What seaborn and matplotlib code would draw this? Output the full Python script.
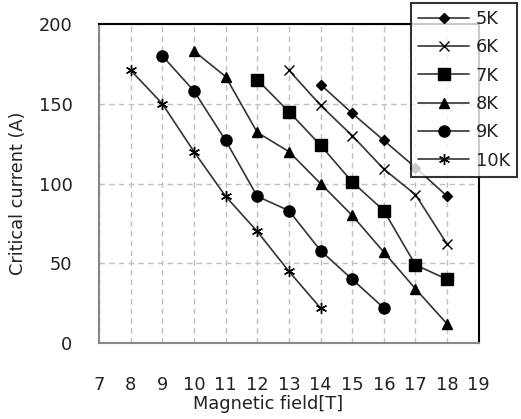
import matplotlib
matplotlib.use("Agg")
import matplotlib.pyplot as plt
import seaborn as sns
import pandas as pd

# ---- data ----
b_5k = [14, 15, 16, 17, 18]
i_5k = [162, 144, 127, 110, 92]
b_6k = [13, 14, 15, 16, 17, 18]
i_6k = [171, 149, 130, 109, 93, 62]
b_7k = [12, 13, 14, 15, 16, 17, 18]
i_7k = [165, 145, 124, 101, 83, 49, 40]
b_8k = [10, 11, 12, 13, 14, 15, 16, 17, 18]
i_8k = [183, 167, 132, 120, 100, 80, 57, 34, 12]
b_9k = [9, 10, 11, 12, 13, 14, 15, 16]
i_9k = [180, 158, 127, 92, 83, 58, 40, 22]
b_10k = [8, 9, 10, 11, 12, 13, 14]
i_10k = [171, 150, 120, 92, 70, 45, 22]
series_names = ["5K", "6K", "7K", "8K", "9K", "10K"]
x_ticks = list(range(7, 20))
y_ticks = [0, 50, 100, 150, 200]

rows = []
for name, bs, cs in zip(series_names,
                        [b_5k, b_6k, b_7k, b_8k, b_9k, b_10k],
                        [i_5k, i_6k, i_7k, i_8k, i_9k, i_10k]):
    for b, c in zip(bs, cs):
        rows.append({"B": b, "I": c, "T": name})
df = pd.DataFrame(rows)

sns.set_style("white")
plt.rcParams["font.family"] = ["DejaVu Sans"]

fig = plt.figure(figsize=(5.21, 4.19), dpi=100)
ax = fig.add_axes([0.19, 0.181, 0.729, 0.762])

markers = {"5K": "D", "6K": "x", "7K": "s", "8K": "^", "9K": "o", "10K": (6, 2, 0)}
msizes = {"5K": 5, "6K": 7, "7K": 8, "8K": 7, "9K": 8, "10K": 8}

for name in series_names:
    sub = df[df["T"] == name]
    sns.lineplot(data=sub, x="B", y="I", ax=ax, color="#333333",
                 marker=markers[name], markersize=msizes[name],
                 markerfacecolor="black", markeredgecolor="black",
                 markeredgewidth=1.0, linewidth=1.2, label=name,
                 legend=False)

FS = 12.8
ax.set_xlim(7, 19)
ax.set_ylim(0, 200)
ax.set_xticks(x_ticks)
ax.set_yticks(y_ticks)
ax.grid(True, linestyle=(0, (4, 3)), color="#c0c0c0", linewidth=1.0)
ax.tick_params(axis="both", length=0, labelsize=FS, colors="#222222")
ax.tick_params(axis="x", pad=24)
ax.tick_params(axis="y", pad=19)

for s in ["left", "bottom"]:
    ax.spines[s].set_color("#888888")
    ax.spines[s].set_linewidth(1.5)
for s in ["top", "right"]:
    ax.spines[s].set_color("black")
    ax.spines[s].set_linewidth(1.5)

ax.set_xlabel("Magnetic field[T]", fontsize=FS, color="#222222")
ax.set_ylabel("Critical current (A)", fontsize=FS, color="#222222")
ax.xaxis.set_label_coords(0.445, -0.162)
ax.yaxis.set_label_coords(-0.19, 0.47)

handles, labels = ax.get_legend_handles_labels()
leg = ax.legend(handles, labels, loc="upper right",
                bbox_to_anchor=(0.993, 0.993), bbox_transform=fig.transFigure,
                fancybox=False, frameon=True, edgecolor="black",
                fontsize=FS, handlelength=2.85, labelspacing=0.58,
                borderpad=0.4, handletextpad=0.4, borderaxespad=0)
leg.get_frame().set_linewidth(1.5)
for t in leg.get_texts():
    t.set_color("#222222")

fig.savefig("out.png", dpi=100)
